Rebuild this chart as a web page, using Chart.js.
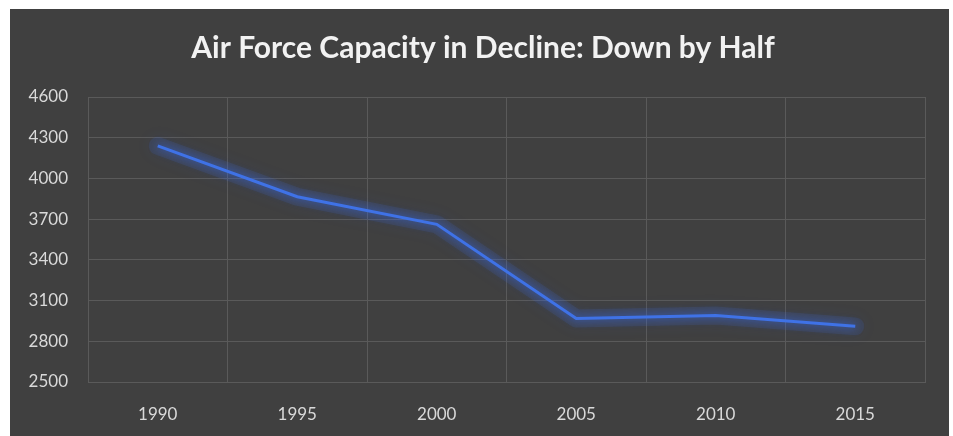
<!DOCTYPE html>
<html>
<head>
<meta charset="utf-8">
<script src="https://cdn.jsdelivr.net/npm/chart.js@4/dist/chart.umd.min.js"></script>
<style>
html,body{margin:0;padding:0;background:#ffffff;width:953px;height:436px;overflow:hidden;}
#wrap{position:absolute;left:10px;top:9px;width:939px;height:427px;background:#404040;}
canvas{display:block;}
</style>
</head>
<body>
<div id="wrap"><canvas id="c" width="939" height="427"></canvas></div>
<script>
const categories = ['1990','1995','2000','2005','2010','2015'];
const capacity = [4240, 3865, 3662, 2968, 2990, 2910];
const yMin = 2500, yMax = 4600, yStep = 300;
const chartTitle = 'Air Force Capacity in Decline: Down by Half';

const glow = {
  id: 'glow',
  beforeDatasetDraw(chart, args) {
    const ctx = chart.ctx;
    ctx.save();
    if (args.index === 1) {
      ctx.shadowColor = 'rgba(55,105,235,0.55)';
      ctx.shadowBlur = 16;
    } else {
      ctx.shadowColor = 'rgba(55,105,235,0.9)';
      ctx.shadowBlur = 8;
    }
  },
  afterDatasetDraw(chart) {
    chart.ctx.restore();
  }
};

new Chart(document.getElementById('c'), {
  type: 'line',
  data: {
    labels: categories,
    datasets: [{
      data: capacity,
      borderColor: '#3f72e6',
      borderWidth: 3,
      pointRadius: 0,
      tension: 0,
      fill: false,
      order: 0
    }, {
      data: capacity,
      borderColor: 'rgba(60,105,225,0.13)',
      borderWidth: 18,
      borderCapStyle: 'round',
      borderJoinStyle: 'round',
      pointRadius: 0,
      tension: 0,
      fill: false,
      order: 1
    }]
  },
  options: {
    responsive: false,
    animation: false,
    devicePixelRatio: 1,
    layout: { padding: { left: 0, right: -7, top: 0, bottom: 0 } },
    plugins: {
      legend: { display: false },
      tooltip: { enabled: false },
      title: {
        display: true,
        text: chartTitle,
        color: '#f2f2f2',
        font: { family: 'Lato', size: 30, weight: 'bold', lineHeight: 1.2 },
        padding: { top: 21, bottom: 31 }
      }
    },
    scales: {
      x: {
        offset: true,
        grid: { offset: true, color: '#5a5a5a', lineWidth: 1, drawTicks: false },
        border: { display: true, color: '#5a5a5a' },
        ticks: { color: '#d9d9d9', font: { family: 'Lato', size: 17 }, padding: 22 },
        afterFit(scale) { scale.height = 54; }
      },
      y: {
        min: yMin, max: yMax,
        grid: { color: '#5a5a5a', lineWidth: 1, drawTicks: false },
        border: { display: false },
        ticks: {
          stepSize: yStep, color: '#d9d9d9', font: { family: 'Lato', size: 17 }, padding: 20,
          callback: (v) => String(v)
        },
        afterFit(scale) { scale.width = 78; }
      },
      yRight: {
        position: 'right',
        min: yMin, max: yMax,
        grid: { display: false, drawTicks: false },
        border: { display: false },
        ticks: { display: false },
        afterFit(scale) { scale.width = 31; }
      }
    }
  },
  plugins: [glow]
});
</script>
</body>
</html>
